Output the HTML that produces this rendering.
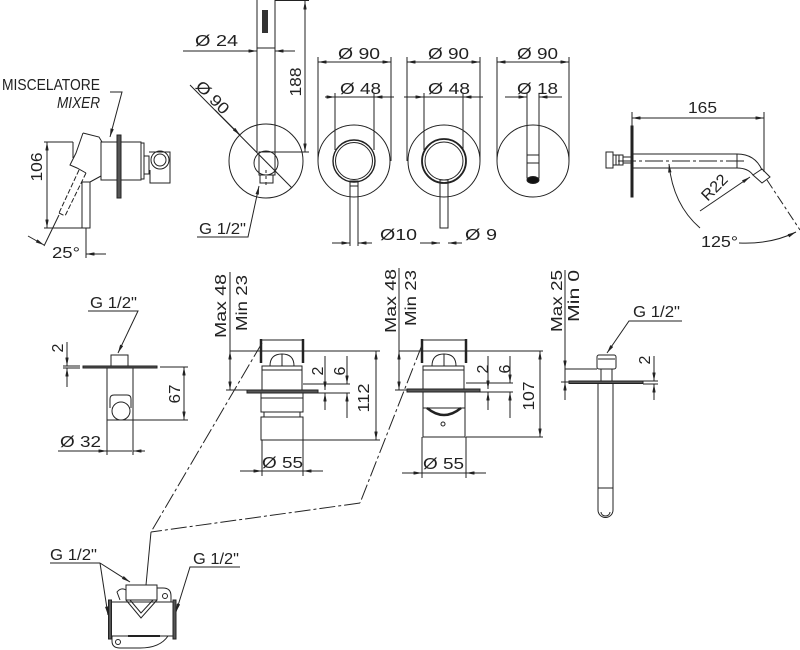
<!DOCTYPE html>
<html><head><meta charset="utf-8"><style>
html,body{margin:0;padding:0;background:#fff;}
svg{display:block;}
text{font-family:"Liberation Sans",sans-serif;font-size:16px;fill:#222;stroke:none;}
</style></head><body>
<svg width="800" height="650" viewBox="0 0 800 650" xmlns="http://www.w3.org/2000/svg">
<defs>
<marker id="a" viewBox="0 0 10 4" refX="10" refY="2" markerWidth="9" markerHeight="3.4" markerUnits="userSpaceOnUse" orient="auto-start-reverse"><path d="M0,0L10,2L0,4z" fill="#222"/></marker>
</defs>
<g fill="none" stroke="#222" stroke-width="1">

<!-- ===== Mixer side view (top-left) ===== -->
<text x="2" y="90" font-size="15" textLength="98" lengthAdjust="spacingAndGlyphs">MISCELATORE</text>
<text x="57" y="108" font-size="15" font-style="italic" textLength="43" lengthAdjust="spacingAndGlyphs">MIXER</text>
<polyline points="110,92 122,92 110,137" marker-end="url(#a)"/>
<path d="M83,133 L99,137 L102,142"/>
<path d="M83,133 L76,153 L70,165 L77,168 L86,173"/>
<line x1="73" y1="142" x2="73" y2="158"/>
<path d="M79,170 L59,213 M86,173 L65,216 M59,213 L65,216" stroke-dasharray="5 2"/>
<rect x="82" y="182" width="8" height="46"/>
<path d="M90,182 L101,176"/>
<rect x="101" y="142" width="16" height="38"/>
<rect x="117" y="135" width="4" height="63" fill="#555"/>
<rect x="121" y="142" width="20" height="38"/>
<rect x="141" y="143" width="3" height="36"/>
<rect x="144" y="156" width="5" height="18"/>
<path d="M149,152 L170,152 L170,183 L150,183 L150,170"/>
<circle cx="160" cy="160" r="9"/>
<circle cx="160" cy="160" r="6"/>
<line x1="47" y1="142" x2="47" y2="228" marker-start="url(#a)" marker-end="url(#a)"/>
<line x1="44" y1="142" x2="73" y2="142"/>
<line x1="44" y1="228" x2="83" y2="228"/>
<text transform="translate(36,167) rotate(-90)" x="0" y="6" text-anchor="middle" font-size="18" textLength="29" lengthAdjust="spacingAndGlyphs">106</text>
<line x1="86" y1="228" x2="86" y2="258"/>
<line x1="106" y1="254" x2="86" y2="254" marker-end="url(#a)"/>
<line x1="59" y1="215" x2="44" y2="246"/>
<line x1="28" y1="236" x2="44" y2="245" marker-end="url(#a)"/>
<text x="52" y="258" font-size="18" textLength="28" lengthAdjust="spacingAndGlyphs">25°</text>

<!-- ===== Shower handset ===== -->
<path d="M257,-1 V152 M275,-1 V152"/>
<line x1="257" y1="48" x2="275" y2="48"/>
<rect x="262" y="10" width="6" height="23" fill="#333" stroke="none"/>
<circle cx="266" cy="161" r="37"/>
<circle cx="266" cy="163" r="12"/>
<rect x="259" y="152" width="16" height="23"/>
<rect x="260" y="175" width="13" height="8"/>
<line x1="266" y1="170" x2="266" y2="188" stroke-dasharray="3 3"/>
<line x1="190" y1="85" x2="292" y2="188"/>
<line x1="215" y1="110" x2="240" y2="135" marker-end="url(#a)"/>
<text transform="translate(213,97) rotate(45)" x="0" y="6" text-anchor="middle" font-size="18" textLength="40" lengthAdjust="spacingAndGlyphs">Ø 90</text>
<line x1="183" y1="51" x2="257" y2="51" marker-end="url(#a)"/>
<line x1="295" y1="51" x2="275" y2="51" marker-end="url(#a)"/>
<text x="195" y="46" font-size="18" textLength="43" lengthAdjust="spacingAndGlyphs">Ø 24</text>
<line x1="305" y1="1" x2="305" y2="152" marker-start="url(#a)" marker-end="url(#a)"/>
<line x1="275" y1="0.5" x2="309" y2="0.5"/>
<line x1="275" y1="152" x2="309" y2="152"/>
<text transform="translate(295,82) rotate(-90)" x="0" y="6" text-anchor="middle" font-size="18" textLength="29" lengthAdjust="spacingAndGlyphs">188</text>
<text x="199" y="234" font-size="15" textLength="47" lengthAdjust="spacingAndGlyphs">G 1/2"</text>
<polyline points="197,237 248,237 259,186" marker-end="url(#a)"/>

<!-- ===== Escutcheons ===== -->
<circle cx="354" cy="161" r="36"/>
<circle cx="354" cy="161" r="21" stroke-width="1.4"/>
<circle cx="354" cy="161" r="18.5"/>
<rect x="350" y="181" width="8" height="5"/>
<path d="M350,186 V246 M358,186 V246"/>
<line x1="332" y1="243" x2="350" y2="243" marker-end="url(#a)"/>
<line x1="372" y1="243" x2="358" y2="243" marker-end="url(#a)"/>
<text x="380" y="240" font-size="18" textLength="37" lengthAdjust="spacingAndGlyphs">Ø10</text>

<circle cx="444" cy="161" r="36"/>
<circle cx="444" cy="161" r="22" stroke-width="1.8"/>
<circle cx="444" cy="161" r="19"/>
<rect x="440" y="180" width="8" height="48"/>
<line x1="420" y1="243" x2="440" y2="243" marker-end="url(#a)"/>
<line x1="462" y1="243" x2="448" y2="243" marker-end="url(#a)"/>
<text x="465" y="240" font-size="18" textLength="32" lengthAdjust="spacingAndGlyphs">Ø 9</text>

<circle cx="533" cy="161" r="36"/>
<rect x="527" y="155" width="12" height="23"/>
<line x1="527" y1="163" x2="539" y2="163"/>
<ellipse cx="533" cy="180" rx="6" ry="3.5" fill="#111"/>

<!-- Ø90 dims -->
<line x1="318" y1="62" x2="391" y2="62" marker-start="url(#a)" marker-end="url(#a)"/>
<line x1="407" y1="62" x2="480" y2="62" marker-start="url(#a)" marker-end="url(#a)"/>
<line x1="497" y1="62" x2="569" y2="62" marker-start="url(#a)" marker-end="url(#a)"/>
<path d="M318,57 V161 M391,57 V161 M407,57 V161 M480,57 V161 M497,57 V161 M569,57 V161"/>
<text x="338" y="59" font-size="18" textLength="42" lengthAdjust="spacingAndGlyphs">Ø 90</text>
<text x="428" y="59" font-size="18" textLength="41" lengthAdjust="spacingAndGlyphs">Ø 90</text>
<text x="517" y="59" font-size="18" textLength="41" lengthAdjust="spacingAndGlyphs">Ø 90</text>
<!-- Ø48 / Ø18 dims -->
<line x1="325" y1="97" x2="394" y2="97"/>
<line x1="325" y1="97" x2="335" y2="97" marker-end="url(#a)"/>
<line x1="394" y1="97" x2="374" y2="97" marker-end="url(#a)"/>
<path d="M335,93 V150 M374,93 V150"/>
<line x1="404" y1="97" x2="483" y2="97"/>
<line x1="404" y1="97" x2="424" y2="97" marker-end="url(#a)"/>
<line x1="483" y1="97" x2="463" y2="97" marker-end="url(#a)"/>
<path d="M424,93 V150 M463,93 V150"/>
<line x1="505" y1="97" x2="527" y2="97" marker-end="url(#a)"/>
<line x1="562" y1="97" x2="539" y2="97" marker-end="url(#a)"/>
<path d="M527,93 V155 M539,93 V155"/>
<text x="340" y="94" font-size="18" textLength="41" lengthAdjust="spacingAndGlyphs">Ø 48</text>
<text x="428" y="94" font-size="18" textLength="42" lengthAdjust="spacingAndGlyphs">Ø 48</text>
<text x="517" y="94" font-size="18" textLength="41" lengthAdjust="spacingAndGlyphs">Ø 18</text>

<!-- ===== Spout side view ===== -->
<rect x="631" y="126" width="2" height="71" fill="#222"/>
<rect x="606" y="152" width="7" height="16"/>
<path d="M613,155 H623 V165 H613"/>
<path d="M616,155 V165 M619,155 V165"/>
<path d="M623,157 H631 M623,163 H631"/>
<line x1="633" y1="154" x2="737" y2="154"/>
<line x1="633" y1="168" x2="737" y2="168"/>
<line x1="737" y1="154" x2="737" y2="168"/>
<path d="M737,154 Q755,154 762,170"/>
<path d="M737,168 Q748,168 753,175"/>
<polygon points="753,175 762,169 770,177 762,183"/>
<line x1="618" y1="161" x2="745" y2="161" stroke-dasharray="18 3 3 3"/>
<line x1="632" y1="118" x2="764" y2="118" marker-start="url(#a)" marker-end="url(#a)"/>
<line x1="632" y1="112" x2="632" y2="126"/>
<line x1="764" y1="112" x2="764" y2="172"/>
<text x="688" y="113" font-size="18" textLength="29" lengthAdjust="spacingAndGlyphs">165</text>
<line x1="700" y1="211" x2="750" y2="177" marker-end="url(#a)"/>
<text transform="translate(714,187) rotate(-45)" x="0" y="6" text-anchor="middle" font-size="18" textLength="30" lengthAdjust="spacingAndGlyphs">R22</text>
<path d="M700,228 C685,215 672,195 669,164" marker-end="url(#a)"/>
<path d="M739,243 C760,244 780,240 796,232" marker-end="url(#a)"/>
<line x1="767" y1="180" x2="800" y2="230" stroke-dasharray="10 3 3 3"/>
<text x="701" y="247" font-size="18" textLength="37" lengthAdjust="spacingAndGlyphs">125°</text>

<!-- ===== Bottom piece 1 ===== -->
<text x="90" y="308" font-size="15" textLength="47" lengthAdjust="spacingAndGlyphs">G 1/2"</text>
<polyline points="88,311 138,311 118,353" marker-end="url(#a)"/>
<rect x="111" y="355" width="17" height="11"/>
<rect x="83" y="366" width="74" height="2" fill="#555"/>
<rect x="107" y="368" width="26" height="52"/>
<path d="M110,408 V399 Q110,395 114,395 H127 Q131,395 131,399 V408"/>
<circle cx="121" cy="411" r="9"/>
<line x1="67" y1="342" x2="67" y2="366" marker-end="url(#a)"/>
<line x1="67" y1="387" x2="67" y2="368" marker-end="url(#a)"/>
<line x1="63" y1="366" x2="80" y2="366"/>
<line x1="63" y1="368" x2="80" y2="368"/>
<text transform="translate(57,348) rotate(-90)" x="0" y="6" text-anchor="middle" font-size="18">2</text>
<line x1="184" y1="367" x2="184" y2="420" marker-start="url(#a)" marker-end="url(#a)"/>
<line x1="160" y1="367" x2="188" y2="367"/>
<line x1="133" y1="420" x2="188" y2="420"/>
<text transform="translate(174,394) rotate(-90)" x="0" y="6" text-anchor="middle" font-size="18" textLength="19" lengthAdjust="spacingAndGlyphs">67</text>
<line x1="58" y1="451" x2="132" y2="451"/>
<line x1="95" y1="451" x2="107" y2="451" marker-end="url(#a)"/>
<line x1="145" y1="451" x2="133" y2="451" marker-end="url(#a)"/>
<path d="M107,420 V455 M133,420 V455"/>
<text x="60" y="447" font-size="18" textLength="41" lengthAdjust="spacingAndGlyphs">Ø 32</text>

<!-- ===== Bottom piece 2 ===== -->
<text transform="translate(220,306) rotate(-90)" x="0" y="6" text-anchor="middle" font-size="18" textLength="64" lengthAdjust="spacingAndGlyphs">Max 48</text>
<text transform="translate(241,303) rotate(-90)" x="0" y="6" text-anchor="middle" font-size="18" textLength="56" lengthAdjust="spacingAndGlyphs">Min 23</text>
<line x1="230" y1="272" x2="230" y2="351"/>
<line x1="230" y1="351" x2="230" y2="390" marker-start="url(#a)" marker-end="url(#a)"/>
<line x1="230" y1="351" x2="380" y2="351"/>
<line x1="226" y1="390" x2="247" y2="390"/>
<line x1="261" y1="340" x2="303" y2="340"/>
<line x1="261" y1="339" x2="261" y2="363" stroke-width="2.5"/>
<line x1="303" y1="339" x2="303" y2="363" stroke-width="2.5"/>
<path d="M270,366 Q270,354 282,354 Q294,354 294,366"/>
<line x1="282" y1="354" x2="282" y2="366"/>
<line x1="266" y1="366" x2="298" y2="366"/>
<rect x="262" y="366" width="40" height="24"/>
<line x1="262" y1="370" x2="302" y2="370"/>
<rect x="247" y="390" width="71" height="3" fill="#555"/>
<rect x="261" y="393" width="42" height="19"/>
<line x1="261" y1="398" x2="303" y2="398"/>
<rect x="264" y="412" width="36" height="5"/>
<rect x="261" y="417" width="42" height="23"/>
<line x1="376" y1="351" x2="376" y2="440" marker-start="url(#a)" marker-end="url(#a)"/>
<line x1="303" y1="440" x2="380" y2="440"/>
<text transform="translate(363,398) rotate(-90)" x="0" y="6" text-anchor="middle" font-size="18" textLength="29" lengthAdjust="spacingAndGlyphs">112</text>
<line x1="325" y1="356" x2="325" y2="390" marker-end="url(#a)"/>
<line x1="325" y1="410" x2="325" y2="393" marker-end="url(#a)"/>
<line x1="347" y1="356" x2="347" y2="384" marker-end="url(#a)"/>
<line x1="347" y1="418" x2="347" y2="393" marker-end="url(#a)"/>
<line x1="303" y1="384" x2="350" y2="384"/>
<line x1="318" y1="393" x2="350" y2="393"/>
<text transform="translate(317,371) rotate(-90)" x="0" y="6" text-anchor="middle" font-size="18">2</text>
<text transform="translate(339,371) rotate(-90)" x="0" y="6" text-anchor="middle" font-size="18">6</text>
<line x1="240" y1="471" x2="323" y2="471"/>
<line x1="250" y1="471" x2="262" y2="471" marker-end="url(#a)"/>
<line x1="315" y1="471" x2="303" y2="471" marker-end="url(#a)"/>
<path d="M262,440 V476 M303,440 V476"/>
<text x="262" y="468" font-size="18" textLength="41" lengthAdjust="spacingAndGlyphs">Ø 55</text>

<!-- ===== Bottom piece 3 ===== -->
<text transform="translate(390,301) rotate(-90)" x="0" y="6" text-anchor="middle" font-size="18" textLength="64" lengthAdjust="spacingAndGlyphs">Max 48</text>
<text transform="translate(410,298) rotate(-90)" x="0" y="6" text-anchor="middle" font-size="18" textLength="56" lengthAdjust="spacingAndGlyphs">Min 23</text>
<line x1="399" y1="268" x2="399" y2="351"/>
<line x1="399" y1="351" x2="399" y2="390" marker-start="url(#a)" marker-end="url(#a)"/>
<line x1="399" y1="351" x2="543" y2="351"/>
<line x1="395" y1="390" x2="407" y2="390"/>
<line x1="422" y1="340" x2="466" y2="340"/>
<line x1="422" y1="339" x2="422" y2="363" stroke-width="2.5"/>
<line x1="466" y1="339" x2="466" y2="363" stroke-width="2.5"/>
<path d="M432,366 Q432,354 444,354 Q456,354 456,366"/>
<line x1="444" y1="354" x2="444" y2="366"/>
<rect x="423" y="366" width="41" height="24"/>
<line x1="423" y1="370" x2="464" y2="370"/>
<rect x="407" y="389" width="73" height="3" fill="#555"/>
<rect x="423" y="392" width="42" height="16"/>
<path d="M427,408 Q444,422 461,408" stroke-width="2.5"/>
<rect x="423" y="408" width="42" height="29"/>
<circle cx="443" cy="424" r="2"/>
<line x1="540" y1="351" x2="540" y2="437" marker-start="url(#a)" marker-end="url(#a)"/>
<line x1="466" y1="437" x2="543" y2="437"/>
<text transform="translate(528,396) rotate(-90)" x="0" y="6" text-anchor="middle" font-size="18" textLength="29" lengthAdjust="spacingAndGlyphs">107</text>
<line x1="488" y1="356" x2="488" y2="389" marker-end="url(#a)"/>
<line x1="488" y1="410" x2="488" y2="392" marker-end="url(#a)"/>
<line x1="510" y1="356" x2="510" y2="383" marker-end="url(#a)"/>
<line x1="510" y1="418" x2="510" y2="392" marker-end="url(#a)"/>
<line x1="466" y1="383" x2="513" y2="383"/>
<line x1="480" y1="392" x2="513" y2="392"/>
<text transform="translate(482,369) rotate(-90)" x="0" y="6" text-anchor="middle" font-size="18">2</text>
<text transform="translate(504,369) rotate(-90)" x="0" y="6" text-anchor="middle" font-size="18">6</text>
<line x1="402" y1="473" x2="486" y2="473"/>
<line x1="410" y1="473" x2="422" y2="473" marker-end="url(#a)"/>
<line x1="478" y1="473" x2="466" y2="473" marker-end="url(#a)"/>
<path d="M422,437 V478 M466,437 V478"/>
<text x="423" y="469" font-size="18" textLength="41" lengthAdjust="spacingAndGlyphs">Ø 55</text>

<!-- ===== Bottom piece 4 (spout) ===== -->
<text transform="translate(556,301) rotate(-90)" x="0" y="6" text-anchor="middle" font-size="18" textLength="62" lengthAdjust="spacingAndGlyphs">Max 25</text>
<text transform="translate(573,296) rotate(-90)" x="0" y="6" text-anchor="middle" font-size="18" textLength="52" lengthAdjust="spacingAndGlyphs">Min 0</text>
<line x1="565" y1="270" x2="565" y2="400"/>
<line x1="565" y1="355" x2="565" y2="369" marker-end="url(#a)"/>
<line x1="565" y1="396" x2="565" y2="382" marker-end="url(#a)"/>
<line x1="565" y1="369" x2="597" y2="369"/>
<line x1="561" y1="382" x2="569" y2="382"/>
<rect x="597" y="355" width="19" height="14" rx="2"/>
<line x1="598" y1="359" x2="615" y2="359"/>
<path d="M601,369 V381 M612,369 V381"/>
<rect x="569" y="381" width="74" height="2.5" fill="#555"/>
<path d="M598,383.5 V510 A7.5,7.5 0 0 0 613,510 V383.5"/>
<line x1="598" y1="488" x2="613" y2="488"/>
<path d="M601,512 A4.5,4 0 0 0 610,512"/>
<line x1="654" y1="356" x2="654" y2="381" marker-end="url(#a)"/>
<line x1="654" y1="400" x2="654" y2="384" marker-end="url(#a)"/>
<line x1="643" y1="381" x2="658" y2="381"/>
<line x1="643" y1="384" x2="658" y2="384"/>
<text transform="translate(644,360) rotate(-90)" x="0" y="6" text-anchor="middle" font-size="18">2</text>
<text x="633" y="317" font-size="15" textLength="47" lengthAdjust="spacingAndGlyphs">G 1/2"</text>
<polyline points="682,321 629,321 607,353" marker-end="url(#a)"/>

<!-- ===== Dash-dot connectors ===== -->
<line x1="262" y1="343" x2="151" y2="532" stroke-dasharray="16 3 3 3"/>
<line x1="422" y1="345" x2="360" y2="503" stroke-dasharray="16 3 3 3"/>
<line x1="360" y1="503" x2="151" y2="532" stroke-dasharray="16 3 3 3"/>
<line x1="151" y1="532" x2="146" y2="585"/>

<!-- ===== Bottom mixer body ===== -->
<rect x="126" y="585" width="31" height="15"/>
<rect x="110" y="602" width="65" height="34"/>
<rect x="108.5" y="600" width="3" height="39" fill="#555"/>
<rect x="173" y="600" width="3" height="39" fill="#555"/>
<path d="M126,600 L141,618 L157,600 M130,600 L141,613 L153,600"/>
<path d="M120,600 L117,592 Q121,587 126,590"/>
<path d="M157,588 H163 Q171,588 171,596 V602"/>
<circle cx="165" cy="596" r="2.5"/>
<path d="M112,636 V641 Q112,648 120,648 H140 Q160,648 168,636"/>
<circle cx="118" cy="642" r="2.5"/>
<line x1="128" y1="636" x2="160" y2="636" stroke-width="2"/>
<text x="50" y="560" font-size="15" textLength="47" lengthAdjust="spacingAndGlyphs">G 1/2"</text>
<line x1="50" y1="563" x2="100" y2="563"/>
<line x1="100" y1="563" x2="130" y2="582" marker-end="url(#a)"/>
<line x1="100" y1="563" x2="108" y2="615" marker-end="url(#a)"/>
<text x="193" y="564" font-size="15" textLength="46" lengthAdjust="spacingAndGlyphs">G 1/2"</text>
<polyline points="240,567 190,567 176,612" marker-end="url(#a)"/>
</g>
</svg>
</body></html>
